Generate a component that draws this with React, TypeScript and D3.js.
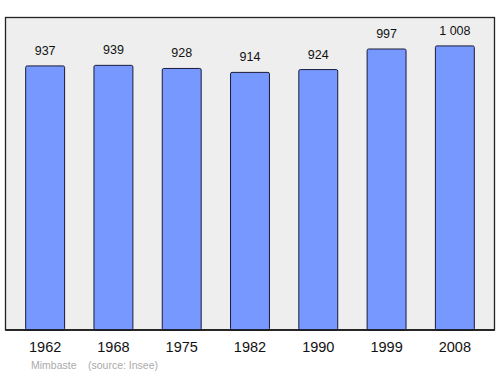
import React from "react";
import * as d3 from "d3";

const years = ["1962", "1968", "1975", "1982", "1990", "1999", "2008"];
const population = [937, 939, 928, 914, 924, 997, 1008];
const valueLabels = ["937", "939", "928", "914", "924", "997", "1 008"];
const commune = "Mimbaste";
const source = "(source: Insee)";

const W = 500;
const H = 374;
const frame = { left: 5.5, top: 17.5, right: 494.5, bottom: 330 };

export default function App() {
  const x = d3
    .scaleBand<string>()
    .domain(years)
    .range([11, 489])
    .paddingInner(0.43)
    .paddingOuter(0.215);
  const y = d3
    .scaleLinear()
    .domain([0, 1108.8])
    .range([frame.bottom, frame.top]);

  return (
    <svg
      width={W}
      height={H}
      style={{ position: "absolute", left: 0, top: 0 }}
      fontFamily="'Liberation Sans', Arial, sans-serif"
    >
      <rect x={0} y={0} width={W} height={H} fill="#ffffff" />
      <rect
        x={frame.left}
        y={frame.top}
        width={frame.right - frame.left}
        height={frame.bottom - frame.top}
        fill="#eeeeee"
        stroke="#222"
        strokeWidth={1.3}
      />
      {years.map((yr, i) => {
        const bx = x(yr)!;
        const by = y(population[i]);
        return (
          <g key={yr}>
            <rect
              x={bx}
              y={by}
              width={x.bandwidth()}
              height={frame.bottom - by}
              fill="#7799ff"
              stroke="#1a1a3a"
              strokeWidth={1}
              rx={1.5}
            />
            <text
              x={bx + x.bandwidth() / 2}
              y={by - 11}
              textAnchor="middle"
              fontSize={12.5}
              fill="#111"
            >
              {valueLabels[i]}
            </text>
            <text
              x={bx + x.bandwidth() / 2}
              y={352}
              textAnchor="middle"
              fontSize={14.5}
              fill="#111"
            >
              {yr}
            </text>
          </g>
        );
      })}
      <line
        x1={frame.left}
        x2={frame.right}
        y1={frame.bottom}
        y2={frame.bottom}
        stroke="#111"
        strokeWidth={1.5}
      />
      <text x={31} y={369} fontSize={10.5} fill="#aaaaaa">
        {commune}
      </text>
      <text x={88} y={369} fontSize={10.5} fill="#aaaaaa">
        {source}
      </text>
    </svg>
  );
}
